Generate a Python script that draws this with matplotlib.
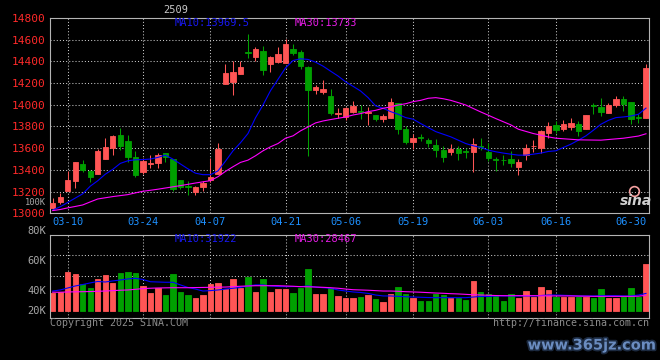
import matplotlib
matplotlib.use('Agg')
import matplotlib.pyplot as plt
import matplotlib.patheffects as pe
import numpy as np
import pandas as pd

# ---------------- data ----------------
holidays = ['2025-04-04', '2025-05-01', '2025-05-02', '2025-05-05', '2025-06-02']
dates = [d.strftime('%m-%d') for d in pd.bdate_range('2025-03-06', '2025-07-02')
         if d.strftime('%Y-%m-%d') not in holidays]

tick_labels = ['03-10', '03-24', '04-07', '04-21', '05-06', '05-19', '06-03', '06-16', '06-30']

opens = [13047, 13102, 13206, 13298, 13451, 13386, 13359, 13499, 13604, 13723,
         13662, 13521, 13383, 13451, 13463, 13552, 13503, 13310, 13249, 13194,
         13246, 13307, 13362, 14188, 14212, 14280, 14488, 14442, 14500, 14372,
         14396, 14381, 14512, 14488, 14350, 14133, 14118, 14084, 13913, 13888,
         13937, 13946, 13928, 13903, 13867, 13882, 14020, 13781, 13653, 13704,
         13674, 13634, 13588, 13561, 13597, 13576, 13567, 13619, 13567, 13500,
         13493, 13499, 13426, 13536, 13616, 13600, 13744, 13815, 13775, 13799,
         13827, 13775, 13998, 13983, 13928, 13998, 14056, 14029, 13888, 13876]
highs = [13138, 13184, 13386, 13469, 13493, 13395, 13591, 13692, 13723, 13790,
         13723, 13576, 13512, 13536, 13555, 13552, 13503, 13310, 13294, 13255,
         13301, 13506, 13652, 14372, 14402, 14402, 14653, 14534, 14540, 14454,
         14534, 14604, 14561, 14503, 14362, 14182, 14228, 14142, 13974, 13980,
         14035, 13995, 13983, 13903, 13913, 14066, 14020, 13806, 13735, 13735,
         13698, 13689, 13622, 13643, 13616, 13600, 13698, 13698, 13649, 13521,
         13533, 13570, 13499, 13643, 13674, 13766, 13845, 13851, 13861, 13882,
         13851, 13903, 14014, 14066, 14014, 14081, 14081, 14029, 13913, 14378]
lows = [13031, 13086, 13206, 13233, 13377, 13285, 13359, 13499, 13536, 13582,
        13475, 13331, 13362, 13417, 13417, 13469, 13203, 13224, 13172, 13172,
        13203, 13285, 13362, 14188, 14087, 14280, 14427, 14402, 14271, 14304,
        14387, 14381, 14463, 14326, 13530, 14096, 14096, 13906, 13876, 13857,
        13928, 13867, 13818, 13851, 13845, 13882, 13735, 13643, 13591, 13662,
        13607, 13515, 13469, 13539, 13490, 13506, 13380, 13582, 13478, 13392,
        13444, 13423, 13356, 13490, 13561, 13555, 13698, 13744, 13754, 13766,
        13708, 13775, 13919, 13897, 13928, 13980, 13943, 13821, 13836, 13876]
closes = [13093, 13148, 13310, 13469, 13402, 13337, 13570, 13607, 13711, 13616,
          13515, 13353, 13484, 13460, 13539, 13515, 13224, 13246, 13243, 13239,
          13276, 13331, 13597, 14295, 14304, 14350, 14476, 14515, 14323, 14439,
          14470, 14564, 14482, 14362, 14133, 14164, 14142, 13928, 13925, 13968,
          13989, 13931, 13934, 13867, 13894, 14029, 13775, 13653, 13692, 13698,
          13646, 13582, 13515, 13597, 13555, 13567, 13643, 13613, 13509, 13493,
          13487, 13463, 13475, 13600, 13622, 13754, 13802, 13769, 13821, 13836,
          13754, 13903, 13986, 13937, 13998, 14050, 14004, 13867, 13882, 14341]

ma10 = [13030, 13060, 13100, 13140, 13180, 13250, 13300, 13360, 13405, 13460,
        13484, 13493, 13495, 13500, 13515, 13536, 13500, 13455, 13410, 13370,
        13356, 13356, 13390, 13480, 13575, 13650, 13735, 13880, 13998, 14130,
        14235, 14340, 14408, 14424, 14418, 14393, 14356, 14310, 14265, 14212,
        14170, 14127, 14066, 13990, 13968, 13937, 13913, 13882, 13867, 13827,
        13790, 13753, 13729, 13705, 13674, 13643, 13622, 13607, 13582, 13567,
        13555, 13545, 13536, 13536, 13545, 13555, 13570, 13576, 13607, 13637,
        13674, 13714, 13766, 13821, 13857, 13882, 13888, 13897, 13913, 13969.5]
ma30 = [13025, 13035, 13050, 13063, 13077, 13105, 13132, 13143, 13154, 13163,
        13172, 13188, 13203, 13212, 13222, 13233, 13244, 13255, 13267, 13279,
        13290, 13301, 13337, 13386, 13429, 13469, 13490, 13530, 13576, 13613,
        13643, 13692, 13714, 13760, 13796, 13833, 13851, 13864, 13876, 13888,
        13906, 13919, 13937, 13949, 13968, 13980, 13998, 14010, 14029, 14041,
        14060, 14066, 14056, 14041, 14020, 13998, 13966, 13934, 13904, 13873,
        13844, 13815, 13775, 13755, 13735, 13720, 13704, 13692, 13687, 13682,
        13677, 13676, 13675, 13674, 13680, 13686, 13692, 13702, 13712, 13733]

volume_k = [33.3, 34.3, 49.4, 47.9, 39.9, 37.3, 43.9, 46.9, 40.6, 48.6,
            49.4, 48.6, 38.8, 33.6, 36.9, 31.8, 47.9, 34.3, 31.8, 29.8,
            31.8, 40.3, 41.1, 36.3, 43.9, 37.3, 45.6, 34.3, 43.9, 34.3,
            36.3, 36.6, 33.6, 37.3, 51.6, 32.8, 32.8, 36.9, 31.1, 29.6,
            29.6, 30.3, 31.8, 28.8, 26.6, 32.6, 37.8, 32.6, 29.6, 27.3,
            27.3, 32.6, 31.8, 29.6, 29.6, 28.1, 42.4, 34.1, 32.6, 31.1,
            27.3, 32.6, 29.6, 34.8, 30.3, 37.8, 35.6, 30.3, 30.3, 30.3,
            30.3, 30.3, 29.6, 36.3, 29.6, 29.6, 30.3, 37.1, 30.3, 55.4]
vma10_k = [34.8, 35.6, 37.1, 38.6, 39.7, 40.9, 42.0, 41.6, 42.4, 43.1,
           43.9, 44.4, 43.5, 41.8, 41.6, 41.4, 41.4, 39.4, 37.5, 36.3,
           34.8, 35.1, 35.6, 36.3, 36.9, 37.5, 38.6, 39.4, 39.4, 38.6,
           38.2, 38.1, 38.2, 38.1, 38.6, 37.8, 37.3, 36.9, 35.6, 34.8,
           34.1, 33.7, 33.0, 31.8, 31.1, 31.1, 30.8, 30.5, 30.3, 30.1,
           29.9, 29.8, 29.8, 29.8, 29.8, 29.8, 30.3, 30.7, 30.7, 31.1,
           31.1, 31.1, 31.1, 31.1, 31.1, 31.4, 31.8, 31.8, 31.6, 31.4,
           31.1, 31.1, 31.1, 31.3, 31.3, 31.3, 31.1, 31.1, 31.8, 33.0]
vma30_k = [33.9, 33.9, 34.1, 34.2, 34.3, 34.4, 34.6, 34.8, 35.1, 35.4,
           35.6, 36.1, 36.6, 36.9, 37.1, 37.2, 37.3, 37.3, 37.3, 37.4,
           37.5, 37.6, 37.7, 37.8, 38.1, 38.4, 38.6, 38.8, 38.8, 38.8,
           38.8, 38.6, 38.4, 38.1, 38.0, 37.8, 37.6, 37.3, 36.9, 36.3,
           35.8, 35.6, 35.4, 35.1, 34.8, 34.8, 34.6, 34.3, 34.1, 33.9,
           33.6, 33.3, 33.1, 32.8, 32.6, 32.3, 32.0, 31.8, 31.6, 31.4,
           31.3, 31.3, 31.3, 31.3, 31.3, 31.2, 31.1, 31.1, 31.1, 31.1,
           31.0, 30.9, 30.8, 30.8, 30.8, 30.8, 30.8, 30.8, 30.9, 31.6]

price_ticks = [13000, 13200, 13400, 13600, 13800, 14000, 14200, 14400, 14600, 14800]
vol_tick_labels = ['80K', '60K', '40K', '20K']
title = '2509'
ma10_text = 'MA10:13969.5'
ma30_text = 'MA30:13733'
vma10_text = 'MA10:31922'
vma30_text = 'MA30:28467'

# ---------------- style ----------------
RED = '#FF5555'
GREEN = '#00A000'
GRID = '#C8C8C8'
SPINE = '#B4B4B4'
BLUE_TXT = '#1E90FF'
MONO = ['DejaVu Sans Mono']
DOT = (0, (1, 2))

W, H = 660, 360
fig = plt.figure(figsize=(6.6, 3.6), dpi=100, facecolor='black')
ax = fig.add_axes([50 / W, 1 - 213.3 / H, 599 / W, 195.3 / H], facecolor='black')
axv = fig.add_axes([50 / W, 1 - 318 / H, 599 / W, 83.3 / H], facecolor='black')

x = np.arange(len(closes))
o = np.array(opens, float); c = np.array(closes, float)
hi = np.array(highs, float); lo = np.array(lows, float)
up = c >= o
cols = np.where(up, RED, GREEN)

for a in (ax, axv):
    a.set_xlim(-0.36, 79.4)
    for s in a.spines.values():
        s.set_color(SPINE)
        s.set_linewidth(0.8)

ax.set_ylim(13000, 14800)
axv.set_ylim(14.5, 77.2)

# grid
for v in price_ticks[1:-1]:
    ax.axhline(v, color=GRID, lw=0.75, ls=DOT, zorder=0)
tick_pos = [dates.index(t) for t in tick_labels]
for p in tick_pos[:-1]:
    ax.axvline(p, color=GRID, lw=0.75, ls=DOT, zorder=0)
    axv.axvline(p, color=GRID, lw=0.75, ls=DOT, zorder=0)
for f in (0.753, 0.508):
    axv.plot([0, 1], [f, f], transform=axv.transAxes, color=GRID, lw=0.75, ls=DOT, zorder=0)

# candles
ax.vlines(x, lo, hi, colors=cols, linewidth=0.75, zorder=2)
ax.bar(x, np.abs(c - o), bottom=np.minimum(o, c), width=0.72, color=cols,
       edgecolor=cols, linewidth=0.6, zorder=3)
ax.plot(x, ma10, color='#0000FF', lw=0.8, zorder=4)
ax.plot(x, ma30, color='#FF00FF', lw=0.8, zorder=4)

# volume
vb = 20.0
vk = np.array(volume_k)
axv.bar(x, vk - vb, bottom=vb, width=0.72, color=cols, edgecolor=cols, linewidth=0.6, zorder=2)
axv.plot(x, vma10_k, color='#0000FF', lw=0.8, zorder=3)
axv.plot(x, vma30_k, color='#FF00FF', lw=0.8, zorder=3)

# ticks
ax.set_yticks(price_ticks)
ax.set_yticklabels([str(t) for t in price_ticks], color='#FF2A2A', family=MONO, fontsize=8)
ax.tick_params(axis='y', length=0, pad=3)
ax.set_xticks(tick_pos)
ax.set_xticklabels(tick_labels, color=BLUE_TXT, family=MONO, fontsize=7.5)
ax.tick_params(axis='x', length=0, pad=3)
axv.set_xticks([]); axv.set_yticks([])

vol_label_frac = [1.044, 0.684, 0.324, 0.084]
for lab, fy in zip(vol_tick_labels, vol_label_frac):
    axv.text(-0.007, fy, lab, transform=axv.transAxes, ha='right', va='center',
             color='#A8A8A8', family=MONO, fontsize=7.5, clip_on=False)
ax.text(-0.007, (213.3 - 202.5) / 195.3, '100K', transform=ax.transAxes, ha='right',
        va='center', color='#A8A8A8', family=MONO, fontsize=6.3)

# MA texts
ax.text((175 - 50) / 599, (213.3 - 23.5) / 195.3, ma10_text, transform=ax.transAxes,
        color='#1818F0', family=MONO, fontsize=7.5, va='center', ha='left')
ax.text((295 - 50) / 599, (213.3 - 23.5) / 195.3, ma30_text, transform=ax.transAxes,
        color='#E81CE8', family=MONO, fontsize=7.5, va='center', ha='left')
axv.text((175 - 50) / 599, (318 - 238.5) / 83.3, vma10_text, transform=axv.transAxes,
         color='#1818F0', family=MONO, fontsize=7.5, va='center', ha='left')
axv.text((295 - 50) / 599, (318 - 238.5) / 83.3, vma30_text, transform=axv.transAxes,
         color='#E81CE8', family=MONO, fontsize=7.5, va='center', ha='left')

# title and footer
fig.text(176 / W, 1 - 10 / H, title, color='#C8C8C8', family=MONO, fontsize=7.5,
         ha='center', va='center')
fig.text(50 / W, 1 - 323 / H, 'Copyright 2025 SINA.COM', color='#8C8C8C', family=MONO,
         fontsize=7.2, ha='left', va='center')
fig.text(649 / W, 1 - 323 / H, 'http://finance.sina.com.cn', color='#8C8C8C', family=MONO,
         fontsize=7.2, ha='right', va='center')

# sina logo
ax.text((636 - 50) / 599, (213.3 - 201) / 195.3, 'sina', transform=ax.transAxes,
        color='#D0D0D0', fontsize=10, fontweight='bold', style='italic',
        ha='center', va='center')
ax.plot([(634 - 50) / 599], [(213.3 - 191) / 195.3], transform=ax.transAxes, marker='o',
        ms=7, mfc='none', mec='#F4A0A0', mew=1.2)

# watermark
fig.text(592 / W, 1 - 345 / H, 'www.365jz.com', color='#6A8CC0', fontsize=10.5,
         fontweight='bold', ha='center', va='center',
         path_effects=[pe.withStroke(linewidth=2.5, foreground='#1C2A40')])

fig.savefig('out.png', dpi=100, facecolor='black')
